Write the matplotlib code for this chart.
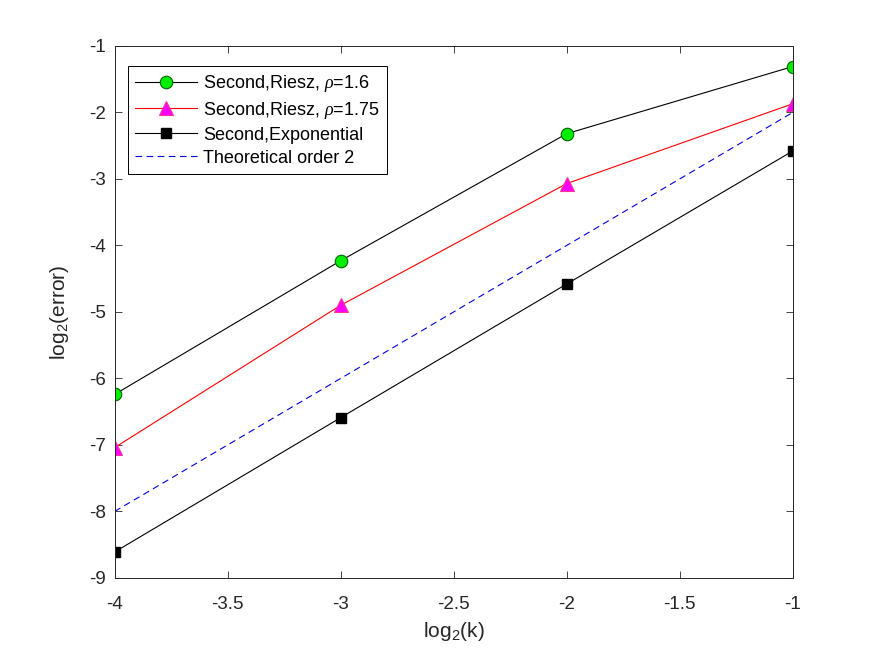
import numpy as np
import matplotlib.pyplot as plt

plt.rcParams['font.family'] = ['Liberation Sans', 'DejaVu Sans']
plt.rcParams['mathtext.fontset'] = 'custom'
plt.rcParams['mathtext.rm'] = 'Liberation Sans'
plt.rcParams['mathtext.it'] = 'Liberation Serif:italic'

k = [-4, -3, -2, -1]
riesz_16 = [-6.24, -4.23, -2.32, -1.31]
riesz_175 = [-7.04, -4.90, -3.07, -1.87]
expo = [-8.61, -6.59, -4.58, -2.58]
theory = [-8, -6, -4, -2]

fig = plt.figure(figsize=(8.75, 6.56), dpi=100)
ax = fig.add_axes([0.131, 0.119, 0.775, 0.811])

ax.plot(k, riesz_16, '-o', color='black', lw=0.8, ms=9,
        mfc='#00ee00', mec='#006600', mew=0.8, label=r'Second,Riesz, $\rho$=1.6')
ax.plot(k, riesz_175, '-^', color='red', lw=0.8, ms=10,
        mfc='#ff00ff', mec='#ff3399', mew=0.8, label=r'Second,Riesz, $\rho$=1.75')
ax.plot(k, expo, '-s', color='black', lw=0.8, ms=7,
        mfc='black', mec='black', label='Second,Exponential')
ax.plot(k, theory, '--', color='#0000dd', lw=0.8, dashes=(6, 4),
        label='Theoretical order 2')

ax.set_xlim(-4, -1)
ax.set_ylim(-9, -1)
ax.set_xticks([-4, -3.5, -3, -2.5, -2, -1.5, -1])
ax.set_xticklabels(['-4', '-3.5', '-3', '-2.5', '-2', '-1.5', '-1'])
ax.set_yticks(range(-9, 0))
ax.set_yticklabels([str(v) for v in range(-9, 0)])
ax.tick_params(direction='in', length=5, width=0.6, labelsize=13.5,
               top=True, right=True, colors='#262626', labelcolor='#262626')
ax.tick_params(axis='x', pad=13)
ax.tick_params(axis='y', pad=6)
for s in ax.spines.values():
    s.set_linewidth(0.7)
    s.set_color('#262626')

ax.set_xlabel(r'log$_2$(k)', fontsize=15, color='#262626', labelpad=5)
ax.set_ylabel(r'log$_2$(error)', fontsize=15, color='#262626', labelpad=13)

leg = ax.legend(loc='upper left', fontsize=13, fancybox=False,
                edgecolor='black', framealpha=1, handlelength=3.4,
                borderpad=0.4, labelspacing=0.33, handletextpad=0.35,
                borderaxespad=0, bbox_to_anchor=(0.02, 0.963))
leg.get_frame().set_linewidth(0.7)

fig.savefig('out.png', dpi=100)
